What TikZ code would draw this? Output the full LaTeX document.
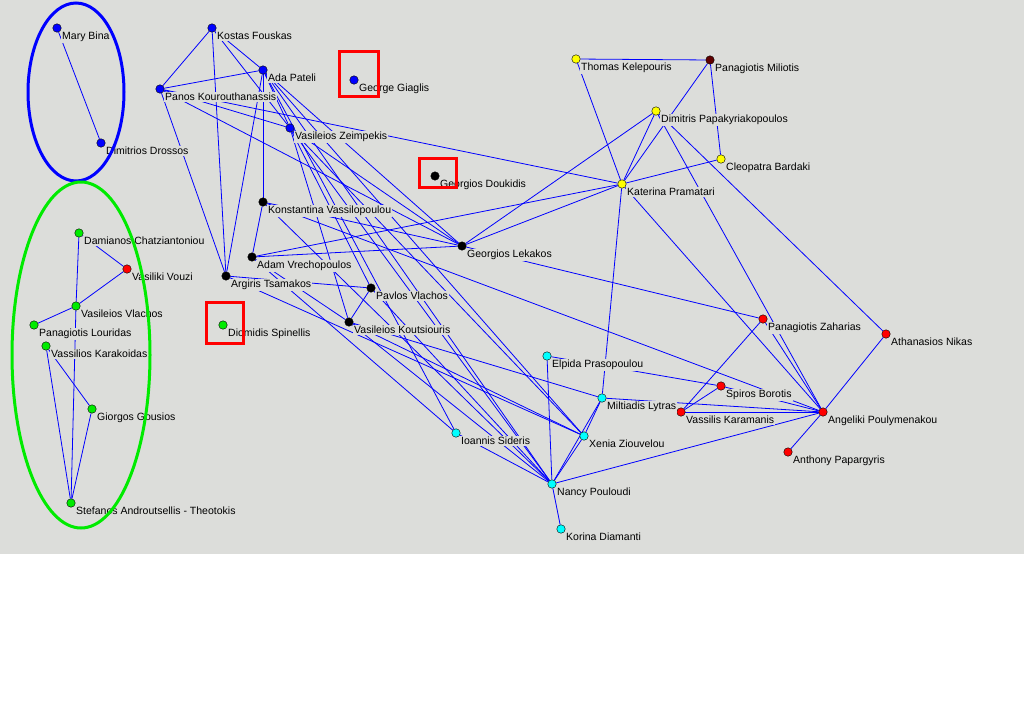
\documentclass[tikz,border=0pt]{standalone}
\usepackage{fontspec}
\setmainfont{Liberation Sans}
\definecolor{bgray}{RGB}{220,221,218}
\definecolor{maroon}{RGB}{96,0,0}
\definecolor{linkblue}{RGB}{0,0,255}
\definecolor{pblue}{RGB}{0,0,255}
\definecolor{lime}{RGB}{0,235,0}
\definecolor{pcyan}{RGB}{0,255,255}
\definecolor{pyellow}{RGB}{255,255,0}
\definecolor{pred}{RGB}{255,0,0}
\pgfdeclarelayer{back}
\pgfsetlayers{back,main}
\begin{document}
\begin{tikzpicture}[x=1pt,y=-1pt,
    pdot/.style={circle,draw=black,fill=#1,minimum size=8.5pt,inner sep=0pt},
    lbl/.style={anchor=base west,fill=bgray,inner sep=1pt,xshift=4pt,yshift=-11.5pt,
      font=\fontsize{10.5}{12}\selectfont},
    link/.style={draw=linkblue,line width=0.8pt},
    redbox/.style={draw=pred,line width=3pt},
    group/.style={line width=3pt}]
          \useasboundingbox (0,0) rectangle (1024,702);
          % people
          \node[pdot=pblue] at (57,28) (mbina) {};
          \node[pdot=pblue] at (101,143) (drossos) {};
          \node[pdot=pblue] at (212,28) (fouskas) {};
          \node[pdot=pblue] at (263,70) (pateli) {};
          \node[pdot=pblue] at (160,89) (kourou) {};
          \node[pdot=pblue] at (290,128) (zeimpekis) {};
          \node[pdot=pblue] at (354,80) (giaglis) {};
          \node[pdot=black] at (435,176) (doukidis) {};
          \node[pdot=black] at (263,202) (vassilo) {};
          \node[pdot=black] at (252,257) (vrecho) {};
          \node[pdot=black] at (226,276) (tsamakos) {};
          \node[pdot=black] at (371,288) (pvlachos) {};
          \node[pdot=black] at (349,322) (koutsiouris) {};
          \node[pdot=black] at (462,246) (lekakos) {};
          \node[pdot=lime] at (79,233) (chatzi) {};
          \node[pdot=pred] at (127,269) (vouzi) {};
          \node[pdot=lime] at (76,306) (vvlachos) {};
          \node[pdot=lime] at (34,325) (louridas) {};
          \node[pdot=lime] at (46,346) (karakoidas) {};
          \node[pdot=lime] at (92,409) (gousios) {};
          \node[pdot=lime] at (71,503) (androut) {};
          \node[pdot=lime] at (223,325) (spinellis) {};
          \node[pdot=pyellow] at (576,59) (kelepouris) {};
          \node[pdot=maroon] at (710,60) (miliotis) {};
          \node[pdot=pyellow] at (656,111) (papak) {};
          \node[pdot=pyellow] at (721,159) (bardaki) {};
          \node[pdot=pyellow] at (622,184) (pramatari) {};
          \node[pdot=pcyan] at (547,356) (prasopoulou) {};
          \node[pdot=pcyan] at (602,398) (lytras) {};
          \node[pdot=pcyan] at (584,436) (ziouvelou) {};
          \node[pdot=pcyan] at (456,433) (sideris) {};
          \node[pdot=pcyan] at (552,484) (pouloudi) {};
          \node[pdot=pcyan] at (561,529) (diamanti) {};
          \node[pdot=pred] at (763,319) (zaharias) {};
          \node[pdot=pred] at (886,334) (nikas) {};
          \node[pdot=pred] at (721,386) (borotis) {};
          \node[pdot=pred] at (681,412) (karamanis) {};
          \node[pdot=pred] at (823,412) (poulymenakou) {};
          \node[pdot=pred] at (788,452) (papargyris) {};
          % names
          \node[lbl] at (mbina) (mbina-t) {Mary Bina};
          \node[lbl] at (drossos) (drossos-t) {Dimitrios Drossos};
          \node[lbl] at (fouskas) (fouskas-t) {Kostas Fouskas};
          \node[lbl] at (pateli) (pateli-t) {Ada Pateli};
          \node[lbl] at (kourou) (kourou-t) {Panos Kourouthanassis};
          \node[lbl] at (zeimpekis) (zeimpekis-t) {Vasileios Zeimpekis};
          \node[lbl] at (giaglis) (giaglis-t) {George Giaglis};
          \node[lbl] at (doukidis) (doukidis-t) {Georgios Doukidis};
          \node[lbl] at (vassilo) (vassilo-t) {Konstantina Vassilopoulou};
          \node[lbl] at (vrecho) (vrecho-t) {Adam Vrechopoulos};
          \node[lbl] at (tsamakos) (tsamakos-t) {Argiris Tsamakos};
          \node[lbl] at (pvlachos) (pvlachos-t) {Pavlos Vlachos};
          \node[lbl] at (koutsiouris) (koutsiouris-t) {Vasileios Koutsiouris};
          \node[lbl] at (lekakos) (lekakos-t) {Georgios Lekakos};
          \node[lbl] at (chatzi) (chatzi-t) {Damianos Chatziantoniou};
          \node[lbl] at (vouzi) (vouzi-t) {Vasiliki Vouzi};
          \node[lbl] at (vvlachos) (vvlachos-t) {Vasileios Vlachos};
          \node[lbl] at (louridas) (louridas-t) {Panagiotis Louridas};
          \node[lbl] at (karakoidas) (karakoidas-t) {Vassilios Karakoidas};
          \node[lbl] at (gousios) (gousios-t) {Giorgos Gousios};
          \node[lbl] at (androut) (androut-t) {Stefanos Androutsellis - Theotokis};
          \node[lbl] at (spinellis) (spinellis-t) {Diomidis Spinellis};
          \node[lbl] at (kelepouris) (kelepouris-t) {Thomas Kelepouris};
          \node[lbl] at (miliotis) (miliotis-t) {Panagiotis Miliotis};
          \node[lbl] at (papak) (papak-t) {Dimitris Papakyriakopoulos};
          \node[lbl] at (bardaki) (bardaki-t) {Cleopatra Bardaki};
          \node[lbl] at (pramatari) (pramatari-t) {Katerina Pramatari};
          \node[lbl] at (prasopoulou) (prasopoulou-t) {Elpida Prasopoulou};
          \node[lbl] at (lytras) (lytras-t) {Miltiadis Lytras};
          \node[lbl] at (ziouvelou) (ziouvelou-t) {Xenia Ziouvelou};
          \node[lbl] at (sideris) (sideris-t) {Ioannis Sideris};
          \node[lbl] at (pouloudi) (pouloudi-t) {Nancy Pouloudi};
          \node[lbl] at (diamanti) (diamanti-t) {Korina Diamanti};
          \node[lbl] at (zaharias) (zaharias-t) {Panagiotis Zaharias};
          \node[lbl] at (nikas) (nikas-t) {Athanasios Nikas};
          \node[lbl] at (borotis) (borotis-t) {Spiros Borotis};
          \node[lbl] at (karamanis) (karamanis-t) {Vassilis Karamanis};
          \node[lbl] at (poulymenakou) (poulymenakou-t) {Angeliki Poulymenakou};
          \node[lbl] at (papargyris) (papargyris-t) {Anthony Papargyris};
          % links, under the names
          \begin{pgfonlayer}{back}
          \fill[white] (0,0) rectangle (1024,702);
          \fill[bgray] (0,0) rectangle (1024,554);
          \path[link] (mbina) edge (drossos);
          \path[link] (fouskas) edge (kourou);
          \path[link] (fouskas) edge (pateli);
          \path[link] (fouskas) edge (tsamakos);
          \path[link] (fouskas) edge (zeimpekis);
          \path[link] (kourou) edge (pateli);
          \path[link] (kourou) edge (tsamakos);
          \path[link] (kourou) edge (zeimpekis);
          \path[link] (kourou) edge (pramatari);
          \path[link] (kourou) edge (lekakos);
          \path[link] (pateli) edge (vassilo);
          \path[link] (pateli) edge (tsamakos);
          \path[link] (pateli) edge (zeimpekis);
          \path[link] (pateli) edge (sideris);
          \path[link] (pateli) edge (pouloudi);
          \path[link] (pateli) edge (ziouvelou);
          \path[link] (pateli) edge (lekakos);
          \path[link] (zeimpekis) edge (lekakos);
          \path[link] (zeimpekis) edge (pvlachos);
          \path[link] (zeimpekis) edge (ziouvelou);
          \path[link] (zeimpekis) edge (pouloudi);
          \path[link] (zeimpekis) edge (koutsiouris);
          \path[link] (vassilo) edge (vrecho);
          \path[link] (vassilo) edge (lekakos);
          \path[link] (vassilo) edge (poulymenakou);
          \path[link] (vassilo) edge (pouloudi);
          \path[link] (vrecho) edge (lekakos);
          \path[link] (vrecho) edge (pramatari);
          \path[link] (vrecho) edge (koutsiouris);
          \path[link] (vrecho) edge (sideris);
          \path[link] (tsamakos) edge (pvlachos);
          \path[link] (tsamakos) edge (ziouvelou);
          \path[link] (pvlachos) edge (koutsiouris);
          \path[link] (pvlachos) edge (pouloudi);
          \path[link] (koutsiouris) edge (lytras);
          \path[link] (koutsiouris) edge (ziouvelou);
          \path[link] (koutsiouris) edge (pouloudi);
          \path[link] (sideris) edge (pouloudi);
          \path[link] (lekakos) edge (zaharias);
          \path[link] (lekakos) edge (papak);
          \path[link] (lekakos) edge (pramatari);
          \path[link] (chatzi) edge (vouzi);
          \path[link] (chatzi) edge (vvlachos);
          \path[link] (vouzi) edge (vvlachos);
          \path[link] (vvlachos) edge (louridas);
          \path[link] (vvlachos) edge (androut);
          \path[link] (karakoidas) edge (gousios);
          \path[link] (karakoidas) edge (androut);
          \path[link] (gousios) edge (androut);
          \path[link] (kelepouris) edge (miliotis);
          \path[link] (kelepouris) edge (pramatari);
          \path[link] (miliotis) edge (pramatari);
          \path[link] (miliotis) edge (bardaki);
          \path[link] (papak) edge (pramatari);
          \path[link] (papak) edge (poulymenakou);
          \path[link] (papak) edge (nikas);
          \path[link] (bardaki) edge (pramatari);
          \path[link] (pramatari) edge (lytras);
          \path[link] (pramatari) edge (poulymenakou);
          \path[link] (prasopoulou) edge (pouloudi);
          \path[link] (prasopoulou) edge (borotis);
          \path[link] (lytras) edge (ziouvelou);
          \path[link] (lytras) edge (pouloudi);
          \path[link] (lytras) edge (poulymenakou);
          \path[link] (ziouvelou) edge (pouloudi);
          \path[link] (pouloudi) edge (diamanti);
          \path[link] (pouloudi) edge (poulymenakou);
          \path[link] (zaharias) edge (karamanis);
          \path[link] (zaharias) edge (poulymenakou);
          \path[link] (nikas) edge (poulymenakou);
          \path[link] (borotis) edge (karamanis);
          \path[link] (borotis) edge (poulymenakou);
          \path[link] (karamanis) edge (poulymenakou);
          \path[link] (papargyris) edge (poulymenakou);
          \end{pgfonlayer}
          % groups and marked people
          \draw[group,pblue] (76,92) ellipse [x radius=48, y radius=89];
          \draw[group,lime] (81,355) ellipse [x radius=69, y radius=173];
          \draw[redbox] (339,51) rectangle (378,96);
          \draw[redbox] (419,158) rectangle (456,187);
          \draw[redbox] (206,302) rectangle (243,343);
        \end{tikzpicture}
\end{document}
